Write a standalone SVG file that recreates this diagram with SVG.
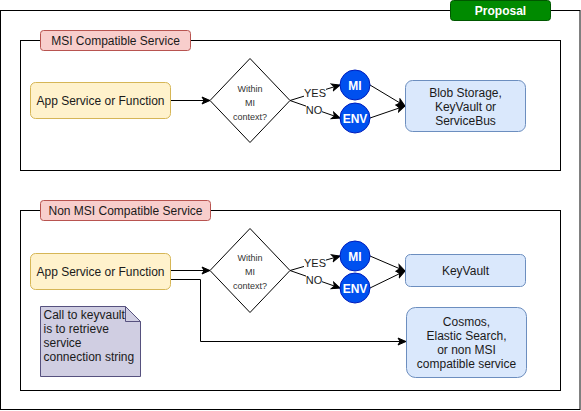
<svg xmlns="http://www.w3.org/2000/svg" width="581" height="411" viewBox="0 0 581 411">
<defs>
<marker id="arr" markerWidth="10" markerHeight="10" refX="9" refY="5" orient="auto" markerUnits="userSpaceOnUse">
<path d="M1,1.5 L9,5 L1,8.5 L3,5 Z" fill="#000" stroke="#000" stroke-width="1"/>
</marker>
<style>
text{font-family:"Liberation Sans",Arial,sans-serif;}
.frame{fill:none;stroke:#000;stroke-width:1;}
.lbl{fill:#f8cecc;stroke:#b85450;stroke-width:1;}
.app{fill:#fff2cc;stroke:#d6b656;stroke-width:1;}
.dia{fill:#fff;stroke:#000;stroke-width:1;}
.circ{fill:#0050ef;stroke:#001dbc;stroke-width:1;}
.svc{fill:#dae8fc;stroke:#6c8ebf;stroke-width:1;}
.note{fill:#d0cee2;stroke:#56517e;stroke-width:1;}
.t12{font-size:12px;fill:#1a1a1a;text-anchor:middle;}
.t9{font-size:9px;fill:#333;text-anchor:middle;}
.ct{font-size:12px;font-weight:bold;fill:#fff;text-anchor:middle;}
.edge{fill:none;stroke:#000;stroke-width:1;}
.el{font-size:11px;fill:#1a1a1a;text-anchor:middle;}
</style>
</defs>
<rect width="581" height="411" fill="#fff"/>

<g id="outer-frame">
<rect class="frame" x="0.5" y="10.5" width="579.5" height="399"/>
</g>
<g id="proposal">
<rect x="450.5" y="0.5" width="100" height="20" rx="3" fill="#008a00" stroke="#005700"/>
<text x="500.5" y="15" class="ct" font-weight="normal">Proposal</text>
</g>

<g id="msi-section">
<rect class="frame" x="20.5" y="40.5" width="540" height="130"/>
</g>
<g id="msi-label">
<rect class="lbl" x="40.5" y="30.5" width="150" height="20" rx="3"/>
<text x="115.5" y="44.5" class="t12">MSI Compatible Service</text>
</g>

<g id="nonmsi-section">
<rect class="frame" x="20.5" y="210.5" width="540" height="180"/>
</g>
<g id="nonmsi-label">
<rect class="lbl" x="40.5" y="200.5" width="170" height="20" rx="3"/>
<text x="125.5" y="214.5" class="t12">Non MSI Compatible Service</text>
</g>

<g id="connectors">
<line class="edge" x1="170.5" y1="100.5" x2="210" y2="100.5" marker-end="url(#arr)"/>
<polyline class="edge" points="290,100.5 340,85" marker-end="url(#arr)"/>
<polyline class="edge" points="290,100.5 340,118" marker-end="url(#arr)"/>
<line class="edge" x1="370" y1="85" x2="405" y2="106" marker-end="url(#arr)"/>
<line class="edge" x1="370" y1="118" x2="405" y2="106" marker-end="url(#arr)"/>

<line class="edge" x1="170.5" y1="270.5" x2="210" y2="270.5" marker-end="url(#arr)"/>
<polyline class="edge" points="290,270.5 340,256" marker-end="url(#arr)"/>
<polyline class="edge" points="290,270.5 340,288" marker-end="url(#arr)"/>
<line class="edge" x1="370" y1="256" x2="405" y2="271" marker-end="url(#arr)"/>
<line class="edge" x1="370" y1="288" x2="405" y2="271" marker-end="url(#arr)"/>
<polyline class="edge" points="170.5,279.5 200.5,279.5 200.5,341.5 406,341.5" marker-end="url(#arr)"/>

<rect x="304" y="87" width="22" height="11" fill="#fff"/>
<text x="315" y="97" class="el">YES</text>
<rect x="306" y="104" width="16" height="11" fill="#fff"/>
<text x="314" y="114" class="el">NO</text>
<rect x="304" y="257" width="22" height="11" fill="#fff"/>
<text x="315" y="267" class="el">YES</text>
<rect x="306" y="274" width="16" height="11" fill="#fff"/>
<text x="314" y="284" class="el">NO</text>
</g>

<g id="app-top">
<rect class="app" x="30.5" y="82.5" width="140" height="36" rx="5"/>
<text x="100.5" y="104.5" class="t12">App Service or Function</text>
</g>
<g id="decision-top">
<polygon class="dia" points="250,58.5 290,100.5 250,142.5 210,100.5"/>
<text x="250" y="92" class="t9">Within</text>
<text x="250" y="106" class="t9">MI</text>
<text x="250" y="120" class="t9">context?</text>
</g>
<g id="mi-top">
<circle class="circ" cx="355" cy="85" r="15"/>
<text x="355" y="89.5" class="ct">MI</text>
</g>
<g id="env-top">
<circle class="circ" cx="355" cy="118" r="15"/>
<text x="355" y="122.5" class="ct">ENV</text>
</g>
<g id="blob">
<rect class="svc" x="405.5" y="80.5" width="120" height="51" rx="7"/>
<text x="465.5" y="97" class="t12">Blob Storage,</text>
<text x="465.5" y="111" class="t12">KeyVault or</text>
<text x="465.5" y="125" class="t12">ServiceBus</text>
</g>

<g id="app-bottom">
<rect class="app" x="30.5" y="253.5" width="140" height="36" rx="5"/>
<text x="100.5" y="275.5" class="t12">App Service or Function</text>
</g>
<g id="decision-bottom">
<polygon class="dia" points="250,228.5 290,270.5 250,312.5 210,270.5"/>
<text x="250" y="261" class="t9">Within</text>
<text x="250" y="275" class="t9">MI</text>
<text x="250" y="289" class="t9">context?</text>
</g>
<g id="mi-bottom">
<circle class="circ" cx="355" cy="256" r="15"/>
<text x="355" y="260.5" class="ct">MI</text>
</g>
<g id="env-bottom">
<circle class="circ" cx="355" cy="288" r="15"/>
<text x="355" y="292.5" class="ct">ENV</text>
</g>
<g id="keyvault">
<rect class="svc" x="405.5" y="254.5" width="120" height="32" rx="5"/>
<text x="465.5" y="275" class="t12">KeyVault</text>
</g>
<g id="cosmos">
<rect class="svc" x="406.5" y="307.5" width="120" height="70" rx="9"/>
<text x="466.5" y="326" class="t12">Cosmos,</text>
<text x="466.5" y="340" class="t12">Elastic Search,</text>
<text x="466.5" y="354" class="t12">or non MSI</text>
<text x="466.5" y="368" class="t12">compatible service</text>
</g>
<g id="note">
<path class="note" d="M40.5,306.5 H125.5 L140.5,321.5 V376.5 H40.5 Z"/>
<path d="M125.5,306.5 V321.5 H140.5" fill="none" stroke="#56517e"/>
<text x="43.5" y="318.5" font-size="12" fill="#1a1a1a">Call to keyvault</text>
<text x="43.5" y="332.5" font-size="12" fill="#1a1a1a">is to retrieve</text>
<text x="43.5" y="346.5" font-size="12" fill="#1a1a1a">service</text>
<text x="43.5" y="360.5" font-size="12" fill="#1a1a1a">connection string</text>
</g>
</svg>
